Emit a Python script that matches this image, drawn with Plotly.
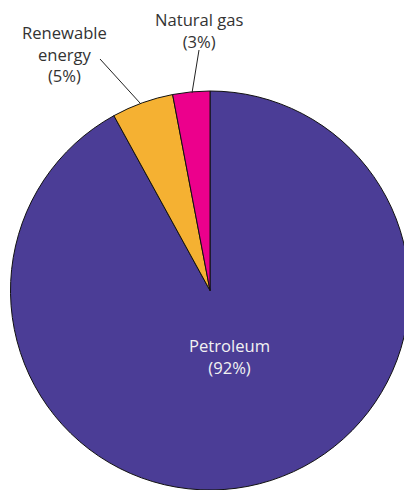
import plotly.graph_objects as go

labels = ["Petroleum", "Renewable energy", "Natural gas"]
values = [92, 5, 3]
colors = ["#4B3D96", "#F5B132", "#EC008C"]

# page body has an 8px default margin, so the figure is drawn 8px in
OFF = 8
W, H = 412 - OFF, 490 - OFF

fig = go.Figure(go.Pie(
    labels=labels, values=values, sort=False, direction="clockwise",
    rotation=0, textinfo="none", hoverinfo="label+percent",
    marker=dict(colors=colors, line=dict(color="#111111", width=1)),
    domain=dict(x=[0, 1], y=[0, 1 - (91 - OFF) / H]),
    showlegend=False,
))

def px(x, y):
    return (x - OFF) / W, 1 - (y - OFF) / H

font = dict(family="Open Sans, Noto Sans, sans-serif", size=16.6, color="#333333")
ann = [
    ("Renewable<br>energy<br>(5%)", 65, 54, font),
    ("Natural gas<br>(3%)", 199, 30.5, font),
    ("Petroleum<br>(92%)", 229, 356, dict(font, color="#F2F2F2")),
]
for t, x, y, f in ann:
    ax, ay = px(x, y)
    fig.add_annotation(text=t, x=ax, y=ay, xref="paper", yref="paper",
                       showarrow=False, font=f, align="center", borderpad=0,
                       xanchor="center", yanchor="middle")

for (x0, y0, x1, y1) in [(100, 59, 140, 103), (199, 50, 192, 93)]:
    a0, b0 = px(x0, y0)
    a1, b1 = px(x1, y1)
    fig.add_shape(type="line", x0=a0, y0=b0, x1=a1, y1=b1, xref="paper", yref="paper",
                  line=dict(color="#222222", width=1))

fig.update_layout(width=W, height=H, margin=dict(l=0, r=0, t=0, b=0),
                  paper_bgcolor="white", plot_bgcolor="white")
fig.write_html("out.html")
